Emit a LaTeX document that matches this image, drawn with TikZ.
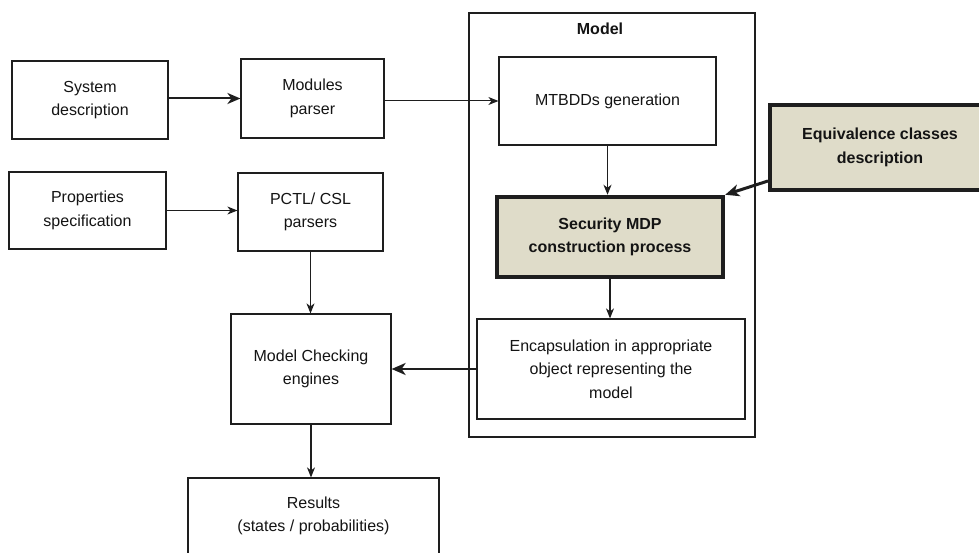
\documentclass[tikz,border=0pt]{standalone}
\usepackage{fontspec}
\setmainfont{Liberation Sans}
\usetikzlibrary{arrows.meta,calc}
\definecolor{linec}{RGB}{30,30,30}
\definecolor{txtc}{RGB}{20,20,20}
\definecolor{beige}{RGB}{223,220,201}
\begin{document}
\begin{tikzpicture}[x=1pt,y=1pt,
  box/.style={draw=linec, line width=1.2pt, fill=white, text=txtc, align=center, inner sep=0pt,
    font=\fontsize{16pt}{23.5pt}\selectfont},
  hibox/.style={box, fill=beige, line width=4.5pt, font=\bfseries\fontsize{16pt}{23.5pt}\selectfont},
  arr/.style={draw=linec, line width=1.2pt, -{Stealth[length=10pt,width=8pt,inset=3pt]}},
  thickarr/.style={draw=linec, line width=2.5pt, -{Stealth[length=14pt,width=12pt,inset=4pt]}},
]
\useasboundingbox (0,0) rectangle (979,552);
\fill[white] (0,0) rectangle (979,552);
% container
\node[draw=linec, line width=1.2pt, minimum width=286pt, minimum height=424pt, inner sep=0pt] (model) at (612,327) {};
\node[font=\bfseries\fontsize{16pt}{19pt}\selectfont, text=txtc] (modellbl) at (600,523) {Model};
% left column
\node[box, minimum width=156pt, minimum height=78pt] (sys) at (90,452) {System\\description};
\node[box, minimum width=143pt, minimum height=79pt] (mod) at (312.5,453.5) {Modules\\parser};
\node[box, minimum width=157pt, minimum height=77pt] (prop) at (87.5,341.5) {Properties\\specification};
\node[box, minimum width=145pt, minimum height=78pt] (pctl) at (310.5,340) {PCTL/ CSL\\parsers};
\node[box, minimum width=160pt, minimum height=110pt] (mce) at (311,183) {Model Checking\\engines};
\node[box, minimum width=251pt, minimum height=76pt] (res) at (313.5,36) {Results\\(states / probabilities)};
% model internals
\node[box, minimum width=217pt, minimum height=88pt] (mtb) at (607.5,451) {MTBDDs generation};
\node[hibox, minimum width=226pt, minimum height=80pt] (sec) at (610,315) {Security MDP\\construction process};
\node[box, minimum width=268pt, minimum height=100pt] (enc) at (611,183) {Encapsulation in appropriate\\object representing the\\model};
\node[hibox, line width=4pt, minimum width=220pt, minimum height=85pt] (eq) at (880,404.5) {Equivalence classes\\description};
% connectors
\draw[arr, line width=2pt, -{Stealth[length=13pt,width=11pt,inset=4pt]}] (sys.east |- mod.west) -- (mod.west);
\draw[arr, line width=1pt] (mod.east |- mtb.west) -- (mtb.west);
\draw[arr, line width=1.3pt] (prop.east) -- (prop.east -| pctl.west);
\draw[arr] (pctl.south) -- (pctl.south |- mce.north);
\draw[arr] (mce.south) -- (mce.south |- res.north);
\draw[arr] (mtb.south) -- (mtb.south |- sec.north);
\draw[arr] (sec.south) -- (sec.south |- enc.north);
\draw[thickarr] (enc.west) -- (enc.west -| mce.east);
\draw[thickarr, line width=3pt] ($(eq.south west)+(0,11)$) -- (sec.north east);
\end{tikzpicture}
\end{document}
